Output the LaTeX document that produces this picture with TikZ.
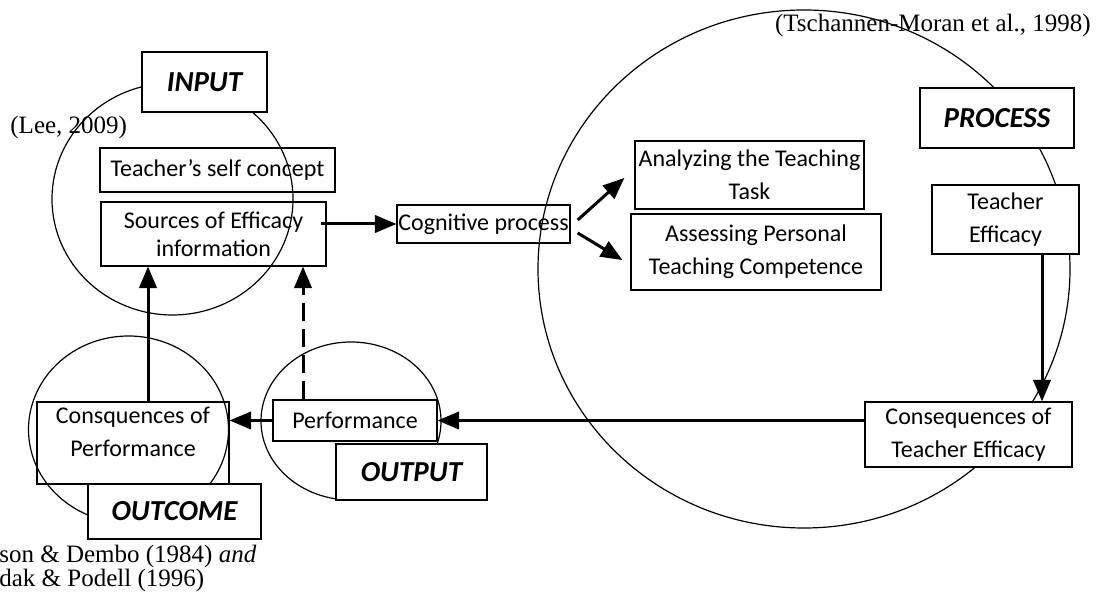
\documentclass[tikz,border=0pt]{standalone}
\usepackage{fontspec}
\setmainfont{Liberation Serif}
\newfontfamily\calibri{Carlito}
\usepackage{tikz}
\usetikzlibrary{arrows}
\tikzstyle{box} = [rectangle, draw=black, line width=0.7pt, inner sep=0pt, align=center, font=\calibri\fontsize{12}{16.5}\selectfont]
\tikzstyle{stage} = [rectangle, draw=black, line width=0.8pt, fill=white, inner sep=0pt, font=\calibri\fontsize{14.5}{17}\selectfont\bfseries\itshape]
\tikzstyle{ring} = [line width=0.6pt]
\tikzstyle{arrow} = [line width=1.5pt,->,>=triangle 45]
\tikzstyle{citation} = [inner sep=0pt, font=\fontsize{12.5}{12}\selectfont]

\begin{document}
\begin{tikzpicture}[x=0.5pt,y=-0.5pt]
\useasboundingbox (0,0) rectangle (1099,613);

% the four circles
\draw [ring] (172.5,199) ellipse [x radius=60.25pt, y radius=58pt];
\draw [ring] (804,269) ellipse [x radius=133pt, y radius=129.5pt];
\draw [ring] (351,421) ellipse [x radius=45pt, y radius=39.5pt];
\draw [ring] (128.5,429.5) ellipse [x radius=50pt, y radius=46.75pt];

\node (lee) [citation, anchor=west] at (10,127) {(Lee, 2009)};
\node (tsch) [citation, anchor=east] at (1091,25) {(Tschannen-Moran et al., 1998)};
\node (gibson) [citation, anchor=north west, align=left] at (-1,545) {son \& Dembo (1984) \textit{and}\\dak \& Podell (1996)};

% input
\node (input) [stage, minimum width=62.5pt, minimum height=30pt] at (204.5,82) {INPUT};
\node (selfc) [box, minimum width=117.5pt, minimum height=22pt] at (217.5,170) {Teacher’s self concept};
\node (sources) [box, minimum width=112.5pt, minimum height=32pt, font=\calibri\fontsize{12}{14}\selectfont] at (213.5,234) {Sources of Efficacy\\information};

% process
\node (cog) [box, minimum width=86.5pt, minimum height=19pt] at (483.5,224) {Cognitive process};
\node (anal) [box, minimum width=114.5pt, minimum height=34pt] at (749.5,175) {Analyzing the Teaching\\Task};
\node (assess) [box, minimum width=125pt, minimum height=38pt] at (756,252) {Assessing Personal\\Teaching Competence};
\node (process) [stage, minimum width=77pt, minimum height=30pt] at (997,118) {PROCESS};
\node (teff) [box, fill=white, minimum width=73.5pt, minimum height=34.5pt] at (1005.5,219.5) {Teacher\\Efficacy};
\node (cteff) [box, fill=white, minimum width=103.5pt, minimum height=32.5pt] at (968.5,434.5) {Consequences of\\Teacher Efficacy};

% output and outcome
\node (perf) [box, fill=white, minimum width=82pt, minimum height=20.5pt] at (355,420.5) {Performance};
\node (output) [stage, minimum width=75.5pt, minimum height=28pt] at (411.5,472) {OUTPUT};
\node (cperf) [box, minimum width=96pt, minimum height=41pt] at (133,443) {Consquences of\\Performance\\[-1ex]};
\node (outcome) [stage, minimum width=86.5pt, minimum height=27.5pt] at (174.5,511.5) {OUTCOME};

\draw [arrow] ([xshift=-3pt]sources.east |- cog.west) -- (cog.west);
\draw [arrow] ([shift={(7,-4)}]cog.east) -- ([shift={(-10,3)}]anal.west);
\draw [arrow] ([shift={(7,9)}]cog.east) -- ([shift={(-8,8)}]assess.west);
\draw [arrow] ([xshift=18.25pt]teff.south) -- ([xshift=18.25pt]teff.south |- cteff.north);
\draw [arrow] (cteff.west |- perf.east) -- (perf.east);
\draw [arrow] (perf.west) -- (cperf.east |- perf.west);
\draw [arrow] ([xshift=7.5pt]cperf.north) -- ([xshift=7.5pt]cperf.north |- sources.south);
\draw [arrow, dash pattern=on 9pt off 4pt] ([xshift=-26pt]perf.north) -- ([xshift=-26pt]perf.north |- sources.south);

\end{tikzpicture}
\end{document}
